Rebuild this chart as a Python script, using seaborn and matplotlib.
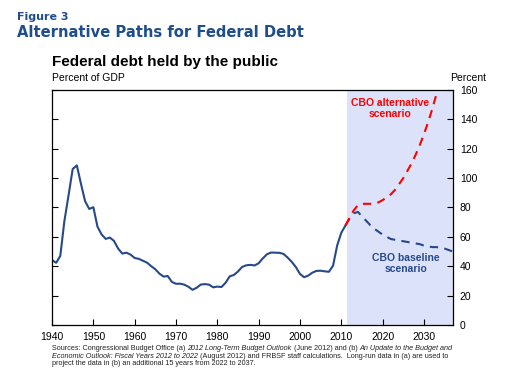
import matplotlib
matplotlib.use("Agg")
from matplotlib import pyplot as plt
import pandas as pd
import seaborn as sns

# historical debt held by the public, percent of GDP
hist_years = list(range(1940, 2012))
hist_values = [44.2, 42.3, 47.0, 70.9, 88.3, 106.2, 108.7, 96.2, 84.3, 79.0,
               80.2, 66.9, 61.6, 58.6, 59.5, 57.2, 52.0, 48.6, 49.2, 47.9,
               45.6, 45.0, 43.7, 42.4, 40.0, 37.9, 34.9, 32.9, 33.3, 29.3,
               28.0, 28.1, 27.4, 26.0, 23.9, 25.3, 27.5, 27.8, 27.4, 25.6,
               26.1, 25.8, 28.7, 33.1, 34.0, 36.4, 39.5, 40.6, 40.9, 40.5,
               42.0, 45.3, 48.1, 49.3, 49.2, 49.1, 48.4, 45.9, 43.0, 39.4,
               34.7, 32.5, 33.6, 35.6, 36.8, 36.9, 36.5, 36.2, 40.3, 54.1,
               62.8, 67.7]

base_years = list(range(2011, 2038))
base_values = [67.7, 72.5, 76.0, 77.0, 74.0, 71.0, 68.0, 65.5, 63.5, 61.5,
               60.0, 58.5, 58.0, 57.5, 57.0, 56.5, 56.0, 55.5, 55.0, 54.0,
               53.5, 53.0, 53.0, 52.5, 52.0, 51.0, 50.0]

alt_years = list(range(2011, 2036))
alt_values = [67.7, 73.0, 78.0, 81.5, 82.5, 82.5, 82.5, 82.5, 83.5, 85.0,
              87.0, 89.0, 92.0, 96.0, 100.0, 105.0, 110.0, 116.0, 122.5, 130.0,
              138.0, 147.0, 157.0, 168.0, 180.0]

x_ticks = [1940, 1950, 1960, 1970, 1980, 1990, 2000, 2010, 2020, 2030]
y_ticks = [0, 20, 40, 60, 80, 100, 120, 140, 160]

navy = "#27498a"
red = "#ff0000"
shade = "#dce2fa"
title_blue = "#1f4e8c"

sns.set_style("ticks")
plt.rcParams["font.family"] = ["Liberation Sans", "DejaVu Sans"]

hist_df = pd.DataFrame({"year": hist_years, "value": hist_values})
base_df = pd.DataFrame({"year": base_years, "value": base_values})
alt_df = pd.DataFrame({"year": alt_years, "value": alt_values})

fig = plt.figure(figsize=(5.1, 3.8), dpi=100)
ax = fig.add_axes([0.102, 0.145, 0.786, 0.618])

ax.axvspan(2011.5, 2037, color=shade, lw=0, zorder=0)
sns.lineplot(data=hist_df, x="year", y="value", color=navy, lw=1.5, ax=ax)
sns.lineplot(data=base_df, x="year", y="value", color=navy, lw=1.5,
             ax=ax, linestyle=(0, (4, 3)))
sns.lineplot(data=alt_df, x="year", y="value", color=red, lw=1.5,
             ax=ax, linestyle=(0, (4, 3)))

ax.set_xlim(1940, 2037)
ax.set_ylim(0, 160)
ax.set_xticks(x_ticks)
ax.set_yticks(y_ticks)
ax.set_xlabel("")
ax.set_ylabel("")
ax.yaxis.tick_right()
ax.tick_params(axis="both", which="both", direction="in", length=4,
               width=0.8, labelsize=7.5, colors="black", pad=5)
ax.tick_params(axis="y", left=True, right=True, labelleft=False, labelright=True)
for s in ax.spines.values():
    s.set_visible(True)
    s.set_color("black")
    s.set_linewidth(0.9)

ax.text(0.843, 0.965, "CBO alternative\nscenario", transform=ax.transAxes,
        color=red, fontsize=7.5, fontweight="bold", ha="center", va="top",
        linespacing=1.05)
ax.text(0.883, 0.305, "CBO baseline\nscenario", transform=ax.transAxes,
        color=navy, fontsize=7.5, fontweight="bold", ha="center", va="top",
        linespacing=1.05)

fig.text(0.033, 0.955, "Figure 3", color=title_blue, fontsize=8,
         fontweight="bold", family="DejaVu Sans", va="center")
fig.text(0.033, 0.914, "Alternative Paths for Federal Debt", color=title_blue,
         fontsize=10.6, fontweight="bold", family="DejaVu Sans", va="center")
fig.text(0.102, 0.836, "Federal debt held by the public", color="black",
         fontsize=11, fontweight="bold", va="center")
fig.text(0.102, 0.795, "Percent of GDP", color="black", fontsize=7.5, va="center")
fig.text(0.917, 0.795, "Percent", color="black", fontsize=7.5, va="center",
         ha="center")

# sources note with italic titles, pieced together left to right
note_lines = [
    [("Sources: Congressional Budget Office (a) ", "normal"),
     ("2012 Long-Term Budget Outlook", "italic"),
     (" (June 2012) and (b) ", "normal"),
     ("An Update to the Budget and", "italic")],
    [("Economic Outlook: Fiscal Years 2012 to 2022", "italic"),
     (" (August 2012) and FRBSF staff calculations.  Long-run data in (a) are used to", "normal")],
    [("project the data in (b) an additional 15 years from 2022 to 2037.", "normal")],
]
renderer = fig.canvas.get_renderer()
y = 0.082
for line in note_lines:
    x = 0.102
    for txt, style in line:
        t = fig.text(x, y, txt, fontsize=5.2, style=style, color="#222222",
                     va="center", ha="left")
        bb = t.get_window_extent(renderer=renderer)
        x = fig.transFigure.inverted().transform((bb.x1, bb.y0))[0]
    y -= 0.019

fig.savefig("out.png", dpi=100)
